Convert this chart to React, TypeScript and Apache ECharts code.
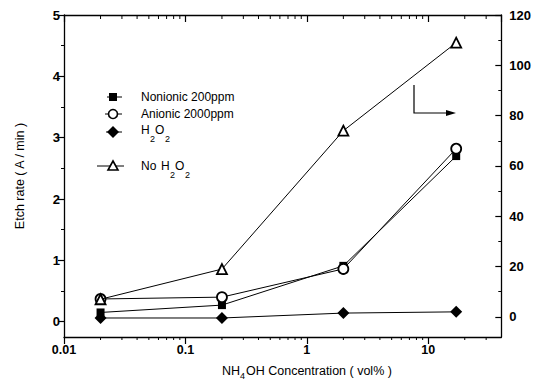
import React, { useEffect, useRef } from "react";
import * as echarts from "echarts";

const concentrations = [0.02, 0.2, 2, 17];
const nonionic200 = [0.15, 0.27, 0.91, 2.7];
const anionic2000 = [0.37, 0.4, 0.86, 2.82];
const withH2O2 = [0.06, 0.06, 0.14, 0.16];
const noH2O2 = [7, 19, 74, 109];

const leftTicks = [0, 1, 2, 3, 4, 5];
const leftMinor = [0.5, 1.5, 2.5, 3.5, 4.5];
const rightTicks = [0, 20, 40, 60, 80, 100, 120];
const rightMinor = [10, 30, 50, 70, 90, 110];
const xMinor = [
  0.02, 0.03, 0.04, 0.05, 0.06, 0.07, 0.08, 0.09,
  0.2, 0.3, 0.4, 0.5, 0.6, 0.7, 0.8, 0.9,
  2, 3, 4, 5, 6, 7, 8, 9,
  20, 30,
];

const FONT = "'Liberation Sans', Arial, sans-serif";
const BLACK = "#000";

function pairs(ys: number[]) {
  return concentrations.map((x, i) => [x, ys[i]]);
}

export default function App() {
  const ref = useRef<HTMLDivElement>(null);
  useEffect(() => {
    if (!ref.current) return;
    const chart = echarts.init(ref.current, undefined, { renderer: "svg" });
    const txt = (x: number, y: number, text: string, size = 12) => ({
      type: "text",
      x,
      y,
      style: { text, fontSize: size, fontFamily: FONT, fill: BLACK, verticalAlign: "middle", align: "left" },
    });
    const lineEl = (x1: number, y1: number, x2: number, y2: number, w = 1) => ({
      type: "line",
      shape: { x1, y1, x2, y2 },
      style: { stroke: BLACK, lineWidth: w },
    });
    const option: any = {
      animation: false,
      backgroundColor: "#fff",
      grid: { left: 64, right: 32, top: 15, bottom: 48, containLabel: false },
      xAxis: [
        {
          type: "log",
          logBase: 10,
          min: 0.01,
          max: 40,
          position: "bottom",
          axisLine: { show: true, onZero: false, lineStyle: { color: BLACK, width: 1.3 } },
          axisTick: { show: true, inside: false, length: 7, lineStyle: { color: BLACK, width: 1.2 } },
          axisLabel: {
            color: BLACK,
            fontSize: 12.5,
            fontWeight: "bold",
            fontFamily: FONT,
            margin: 6,
            showMaxLabel: false,
            formatter: (v: number) => {
              const l = Math.log10(v);
              return Math.abs(l - Math.round(l)) < 1e-6 && v < 20 ? String(v) : "";
            },
          },
          splitLine: { show: false },
        },
        {
          type: "log",
          logBase: 10,
          min: 0.01,
          max: 40,
          position: "top",
          axisLine: { show: true, onZero: false, lineStyle: { color: BLACK, width: 1.3 } },
          axisTick: { show: true, inside: true, length: 7, lineStyle: { color: BLACK, width: 1.2 } },
          axisLabel: { show: false },
          splitLine: { show: false },
        },
      ],
      yAxis: [
        {
          type: "value",
          min: -0.25,
          max: 5,
          position: "left",
          name: "Etch rate ( A / min )",
          nameLocation: "middle",
          nameGap: 38,
          nameTextStyle: { color: BLACK, fontSize: 12.5, fontFamily: FONT },
          axisLine: { show: true, onZero: false, lineStyle: { color: BLACK, width: 1.3 } },
          axisTick: { show: true, inside: false, length: 6, customValues: leftTicks, lineStyle: { color: BLACK, width: 1.2 } },
          axisLabel: { color: BLACK, fontSize: 13, fontWeight: "bold", fontFamily: FONT, margin: 4, customValues: leftTicks },
          splitLine: { show: false },
        },
        {
          type: "value",
          min: -8,
          max: 120,
          position: "right",
          axisLine: { show: true, onZero: false, lineStyle: { color: BLACK, width: 1.3 } },
          axisTick: { show: true, inside: true, length: 6, customValues: rightTicks, lineStyle: { color: BLACK, width: 1.2 } },
          axisLabel: { color: BLACK, fontSize: 13, fontWeight: "bold", fontFamily: FONT, margin: 8, customValues: rightTicks },
          splitLine: { show: false },
        },
        {
          type: "value",
          min: -0.25,
          max: 5,
          position: "left",
          axisLine: { show: false, onZero: false },
          axisTick: { show: true, inside: false, length: 3, customValues: leftMinor, lineStyle: { color: BLACK, width: 1 } },
          axisLabel: { show: false },
          splitLine: { show: false },
        },
        {
          type: "value",
          min: -8,
          max: 120,
          position: "right",
          axisLine: { show: false, onZero: false },
          axisTick: { show: true, inside: true, length: 3, customValues: rightMinor, lineStyle: { color: BLACK, width: 1 } },
          axisLabel: { show: false },
          splitLine: { show: false },
        },
      ],
      series: [
        {
          type: "custom",
          xAxisIndex: 0,
          yAxisIndex: 0,
          silent: true,
          clip: false,
          data: xMinor.map((v) => [v, -0.25]),
          renderItem: (_p: any, api: any) => {
            const x = api.value(0);
            const b = api.coord([x, -0.25]);
            const t = api.coord([x, 5]);
            return {
              type: "group",
              children: [
                { type: "line", shape: { x1: b[0], y1: b[1], x2: b[0], y2: b[1] + 3 }, style: { stroke: BLACK, lineWidth: 1 } },
                { type: "line", shape: { x1: t[0], y1: t[1], x2: t[0], y2: t[1] + 4 }, style: { stroke: BLACK, lineWidth: 1 } },
              ],
            };
          },
        },
        {
          name: "Nonionic 200ppm",
          type: "line",
          yAxisIndex: 0,
          data: pairs(nonionic200),
          symbol: "rect",
          symbolSize: 8,
          itemStyle: { color: BLACK },
          lineStyle: { color: BLACK, width: 1 },
          z: 3,
        },
        {
          name: "Anionic 2000ppm",
          type: "line",
          yAxisIndex: 0,
          data: pairs(anionic2000),
          symbol: "circle",
          symbolSize: 10,
          itemStyle: { color: "#fff", borderColor: BLACK, borderWidth: 1.8 },
          lineStyle: { color: BLACK, width: 1 },
          z: 4,
        },
        {
          name: "H2O2",
          type: "line",
          yAxisIndex: 0,
          data: pairs(withH2O2),
          symbol: "diamond",
          symbolSize: 12,
          itemStyle: { color: BLACK },
          lineStyle: { color: BLACK, width: 1 },
          z: 5,
        },
        {
          name: "No H2O2",
          type: "line",
          yAxisIndex: 1,
          data: pairs(noH2O2),
          symbol: "triangle",
          symbolSize: 10,
          itemStyle: { color: "#fff", borderColor: BLACK, borderWidth: 1.8 },
          lineStyle: { color: BLACK, width: 1 },
          z: 6,
        },
      ],
      graphic: [
        // legend row 1
        lineEl(107, 97, 122, 97),
        { type: "rect", shape: { x: 109, y: 93, width: 8, height: 8 }, style: { fill: BLACK } },
        txt(141, 97, "Nonionic 200ppm"),
        // row 2
        lineEl(105, 114, 122, 114),
        { type: "circle", shape: { cx: 113, cy: 114, r: 4.5 }, style: { fill: "#fff", stroke: BLACK, lineWidth: 1.6 } },
        txt(141, 114, "Anionic 2000ppm"),
        // row 3
        lineEl(106, 132, 122, 132),
        { type: "polygon", shape: { points: [[113, 126], [119, 132], [113, 138], [107, 132]] }, style: { fill: BLACK } },
        txt(141, 130, "H"),
        txt(150, 139, "2", 9),
        txt(155, 130, "O"),
        txt(165, 139, "2", 9),
        // row 4
        lineEl(97, 166, 124, 166),
        { type: "polygon", shape: { points: [[113, 161], [118, 170], [108, 170]] }, style: { fill: "#fff", stroke: BLACK, lineWidth: 1.6 } },
        txt(141, 166, "No"),
        txt(161, 166, "H"),
        txt(170, 175, "2", 9),
        txt(175, 166, "O"),
        txt(185, 175, "2", 9),
        // arrow
        { type: "polyline", shape: { points: [[414, 85], [414, 113], [450, 113]] }, style: { stroke: BLACK, lineWidth: 1.2, fill: "none" } },
        { type: "polygon", shape: { points: [[446, 110], [456, 113], [446, 116]] }, style: { fill: BLACK } },
        // x-axis title
        txt(222, 371, "NH", 12.5),
        txt(240, 376, "4", 9),
        txt(246, 371, "OH Concentration ( vol% )", 12.5),
      ],
    };
    chart.setOption(option);
    return () => chart.dispose();
  }, []);
  return (
    <div
      ref={ref}
      style={{ position: "fixed", left: 0, top: 0, width: 534, height: 385, background: "#fff" }}
    />
  );
}
